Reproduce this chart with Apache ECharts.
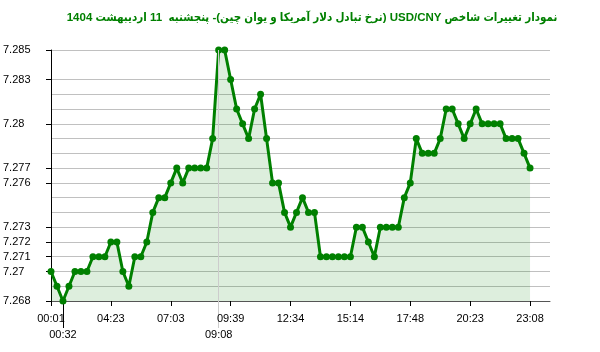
<!DOCTYPE html>
<html>
<head>
<meta charset="utf-8">
<script src="https://cdn.jsdelivr.net/npm/echarts@6/dist/echarts.min.js"></script>
<style>
	html, body { margin: 0; padding: 0; background: #fff; }
	#chart { width: 600px; height: 352px; }
</style>
</head>
<body>
<div id="chart" dir="rtl"></div>
<script>
// chart data
const titleText = 'نمودار تغییرات شاخص USD/CNY (نرخ تبادل دلار آمریکا و یوان چین)- پنجشنبه  11 اردیبهشت 1404';
const rates = [
	7.270, 7.269, 7.268, 7.269, 7.270, 7.270, 7.270, 7.271, 7.271, 7.271,
	7.272, 7.272, 7.270, 7.269, 7.271, 7.271, 7.272, 7.274, 7.275, 7.275,
	7.276, 7.277, 7.276, 7.277, 7.277, 7.277, 7.277, 7.279, 7.285, 7.285,
	7.283, 7.281, 7.280, 7.279, 7.281, 7.282, 7.279, 7.276, 7.276, 7.274,
	7.273, 7.274, 7.275, 7.274, 7.274, 7.271, 7.271, 7.271, 7.271, 7.271,
	7.271, 7.273, 7.273, 7.272, 7.271, 7.273, 7.273, 7.273, 7.273, 7.275,
	7.276, 7.279, 7.278, 7.278, 7.278, 7.279, 7.281, 7.281, 7.280, 7.279,
	7.280, 7.281, 7.280, 7.280, 7.280, 7.280, 7.279, 7.279, 7.279, 7.278,
	7.277
];
// x tick labels every 10 points
const timeLabels = ['00:01', '04:23', '07:03', '09:39', '12:34', '15:14', '17:48', '20:23', '23:08'];
const timeTickIdx = [0, 10, 20, 30, 40, 50, 60, 70, 80];
// min / max times (second row)
const minIdx = 2, minLabel = '00:32';
const maxIdx = 28, maxLabel = '09:08';
// y axis
const yLabelValues = [7.268, 7.27, 7.271, 7.272, 7.273, 7.276, 7.277, 7.28, 7.283, 7.285];
const yGridValues = [7.268, 7.269, 7.27, 7.271, 7.272, 7.273, 7.274, 7.275, 7.276, 7.277, 7.278, 7.279, 7.28, 7.281, 7.282, 7.283, 7.285];

const font = 'Liberation Sans, Arial, sans-serif';
const xMax = rates.length - 1 + 10 / 3; // empty space right of the last point
const chart = echarts.init(document.getElementById('chart'));

const extraAxis = (idx, label, color) => ({
	type: 'value', gridIndex: 0, position: 'bottom', min: 0, max: xMax,
	axisLine: { show: false },
	splitLine: { show: false },
	axisTick: { show: true, customValues: [idx], length: 27, lineStyle: { color: color } },
	axisLabel: {
		customValues: [idx], margin: 28, color: '#000', fontSize: 11, fontFamily: font,
		formatter: () => label
	}
});

chart.setOption({
	animation: false,
	title: {
		text: titleText,
		left: 307, top: 7, textAlign: 'center',
		textStyle: { color: '#008000', fontSize: 11.5, fontWeight: 'bold', fontFamily: 'Liberation Sans, DejaVu Sans Condensed, sans-serif' }
	},
	grid: { left: 50, right: 50, top: 50, bottom: 51, containLabel: false },
	xAxis: [
		{
			type: 'value', min: 0, max: xMax,
			axisLine: { lineStyle: { color: '#555' } },
			axisTick: { customValues: timeTickIdx, length: 5, lineStyle: { color: '#000' } },
			splitLine: { show: false },
			axisLabel: {
				customValues: timeTickIdx,
				color: '#000', fontSize: 11, fontFamily: font, margin: 12,
				formatter: v => timeLabels[timeTickIdx.indexOf(Math.round(v))] || ''
			}
		},
		extraAxis(minIdx, minLabel, '#000'),
		extraAxis(maxIdx, maxLabel, '#ccc')
	],
	yAxis: [
		{
			type: 'value', position: 'left', min: 7.268, max: 7.285,
			axisLine: { show: true, lineStyle: { color: '#000' } },
			axisTick: { show: true, customValues: yLabelValues, length: 5, lineStyle: { color: '#000' } },
			splitLine: { show: false },
			axisLabel: {
				customValues: yLabelValues, align: 'left', margin: 48,
				color: '#000', fontSize: 11, fontFamily: font,
				formatter: v => String(+v.toFixed(3))
			}
		},
		{
			type: 'value', position: 'left', min: 7.268, max: 7.285,
			axisLine: { show: false },
			axisTick: { show: false, customValues: yGridValues },
			axisLabel: { show: false },
			splitLine: { show: true, lineStyle: { color: '#c0c0c0', width: 1 } }
		}
	],
	series: [{
		type: 'line',
		data: rates.map((v, i) => [i, v]),
		symbol: 'circle',
		symbolSize: 7,
		lineStyle: { color: '#008000', width: 3 },
		itemStyle: { color: '#008000' },
		areaStyle: { color: 'rgba(0,128,0,0.19)' },
		markLine: {
			silent: true,
			symbol: 'none',
			label: { show: false },
			lineStyle: { color: '#ccc', type: 'solid', width: 1 },
			data: [{ xAxis: maxIdx }]
		}
	}]
});
</script>
</body>
</html>
